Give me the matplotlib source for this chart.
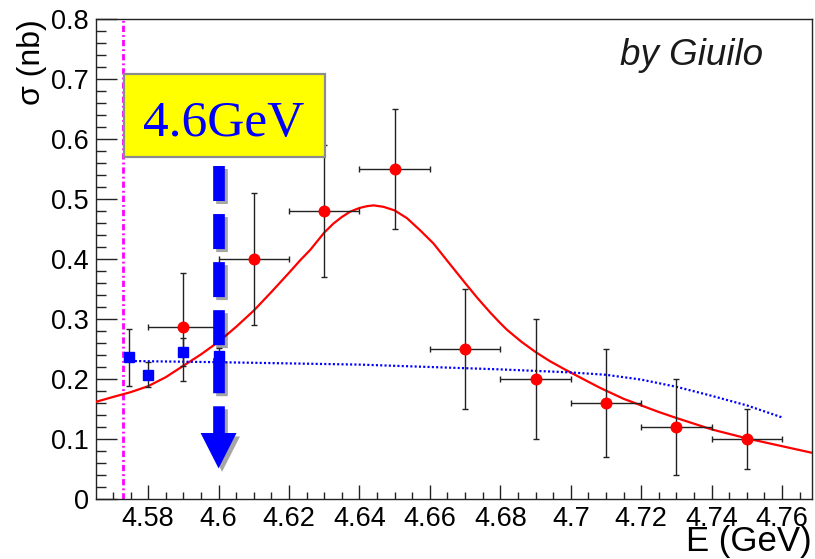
import matplotlib
matplotlib.use("Agg")
import matplotlib.pyplot as plt
import matplotlib.patheffects as pe
from matplotlib.patches import Rectangle, Polygon
from matplotlib.ticker import FixedLocator, MultipleLocator, FixedFormatter

# ---------------- data ----------------
red_x = [4.59, 4.61, 4.63, 4.65, 4.67, 4.69, 4.71, 4.73, 4.75]
red_y = [0.287, 0.400, 0.480, 0.550, 0.250, 0.200, 0.160, 0.120, 0.100]
red_yerr = [0.090, 0.110, 0.110, 0.100, 0.100, 0.100, 0.090, 0.080, 0.050]
red_xerr = [0.01, 0.01, 0.01, 0.01, 0.01, 0.01, 0.01, 0.01, 0.01]

blue_x = [4.5745, 4.58, 4.59, 4.60]
blue_y = [0.236, 0.207, 0.245, 0.238]
blue_yerr = [0.047, 0.021, 0.024, 0.013]

fit_x = [4.5652, 4.570, 4.575, 4.580, 4.585, 4.590, 4.595, 4.600, 4.605, 4.610,
         4.615, 4.620, 4.6232, 4.626, 4.630, 4.6326, 4.6350, 4.6374, 4.6400, 4.6421,
         4.6440, 4.6468, 4.650, 4.6535, 4.6572, 4.661, 4.6648, 4.670, 4.6735, 4.6771,
         4.680, 4.6819, 4.686, 4.690, 4.694, 4.698, 4.7035, 4.7084, 4.715, 4.720,
         4.725, 4.730, 4.740, 4.750, 4.760, 4.7685]
fit_y = [0.162, 0.170, 0.178, 0.188, 0.203, 0.222, 0.241, 0.262, 0.287, 0.314,
         0.345, 0.377, 0.398, 0.415, 0.444, 0.459, 0.470, 0.479, 0.485, 0.488,
         0.4894, 0.487, 0.481, 0.468, 0.448, 0.426, 0.398, 0.360, 0.335, 0.311,
         0.293, 0.282, 0.262, 0.245, 0.230, 0.217, 0.200, 0.185, 0.167, 0.156,
         0.145, 0.135, 0.116, 0.101, 0.088, 0.077]

bkg_x = [4.575, 4.600, 4.620, 4.640, 4.660, 4.680, 4.700, 4.710, 4.720, 4.730,
         4.740, 4.750, 4.760]
bkg_y = [0.230, 0.228, 0.226, 0.224, 0.220, 0.216, 0.211, 0.207, 0.199, 0.187,
         0.172, 0.156, 0.136]

threshold_x = 4.5729

xtick_vals = [4.58, 4.60, 4.62, 4.64, 4.66, 4.68, 4.70, 4.72, 4.74, 4.76]
xtick_labels = ["4.58", "4.6", "4.62", "4.64", "4.66", "4.68", "4.7", "4.72", "4.74", "4.76"]
ytick_vals = [0.0, 0.1, 0.2, 0.3, 0.4, 0.5, 0.6, 0.7, 0.8]
ytick_labels = ["0", "0.1", "0.2", "0.3", "0.4", "0.5", "0.6", "0.7", "0.8"]

arrow_x = 4.60
arrow_top = 0.555
arrow_head_base = 0.110
arrow_tip = 0.051
arrow_half_width = 0.0051

# ---------------- figure ----------------
plt.rcParams['font.family'] = ['Liberation Sans', 'DejaVu Sans']
plt.rcParams['lines.scale_dashes'] = False

fig = plt.figure(figsize=(8.15, 5.59), dpi=100)
ax = fig.add_axes([96/815, 1-499/559, (812-96)/815, (499-19)/559])

ax.set_xlim(4.5652, 4.7685)
ax.set_ylim(0, 0.8)

# threshold line
ax.axvline(threshold_x, color='#ff00ff', lw=2.0, linestyle=(0, (4.5, 2.2, 1.3, 2.2)), zorder=2)

# fit curve
ax.plot(fit_x, fit_y, color='#ff0000', lw=1.6, zorder=3, solid_joinstyle='round')
# background curve
ax.plot(bkg_x, bkg_y, color='#0000ff', lw=1.6, linestyle=(0, (1.5, 1.6)), zorder=3)

# data
ax.errorbar(red_x, red_y, yerr=red_yerr, xerr=red_xerr, fmt='o', color='#ff0000',
            markersize=7.6, ecolor='#222222', elinewidth=1.0, capsize=2.2, capthick=1.0, zorder=4)
ax.errorbar(blue_x, blue_y, yerr=blue_yerr, fmt='s', color='#0000ff',
            markersize=6.6, ecolor='#222222', elinewidth=1.0, capsize=2.2, capthick=1.0, zorder=4)

# annotation box
ax.add_patch(Rectangle((0.0391, 0.7125), 0.2807, 0.1729, transform=ax.transAxes,
                       facecolor='#ffff00', edgecolor='#8c8c8c', lw=1.6, zorder=6))
ax.text(0.1788, 0.756, "4.6GeV", transform=ax.transAxes, ha='center', va='baseline',
        color='#0000ff', fontsize=37, family=['Liberation Serif', 'DejaVu Serif'], zorder=7)

# arrow
shadow = [pe.SimpleLineShadow(offset=(2.5, -2.5), shadow_color='k', alpha=0.35), pe.Normal()]
ax.plot([arrow_x, arrow_x], [arrow_top, arrow_head_base], color='#0000ff', lw=8.4,
        linestyle=(0, (25.2, 9.4)), solid_capstyle='butt', dash_capstyle='butt',
        zorder=8, path_effects=shadow)
head = Polygon([[arrow_x - arrow_half_width, arrow_head_base],
                [arrow_x + arrow_half_width, arrow_head_base],
                [arrow_x, arrow_tip]], closed=True, facecolor='#0000ff', edgecolor='none',
               zorder=8,
               path_effects=[pe.SimplePatchShadow(offset=(2.5, -2.5), shadow_rgbFace='k', alpha=0.35),
                             pe.Normal()])
ax.add_patch(head)

# text
ax.text(0.9316, 0.904, "by Giuilo", transform=ax.transAxes, ha='right', va='baseline',
        fontsize=26.5, style='italic', color='#1a1a1a')

# ticks
ax.xaxis.set_major_locator(FixedLocator(xtick_vals))
ax.xaxis.set_major_formatter(FixedFormatter(xtick_labels))
ax.xaxis.set_minor_locator(MultipleLocator(0.005))
ax.yaxis.set_major_locator(FixedLocator(ytick_vals))
ax.yaxis.set_major_formatter(FixedFormatter(ytick_labels))
ax.yaxis.set_minor_locator(MultipleLocator(0.02))

ax.tick_params(axis='both', which='both', direction='in', top=False, right=False,
               labelsize=19.5, width=1.0, color='#222222')
ax.tick_params(axis='x', which='major', length=10.3, pad=5)
ax.tick_params(axis='x', which='minor', length=5.3)
ax.tick_params(axis='y', which='major', length=15, pad=5)
ax.tick_params(axis='y', which='minor', length=7.3)

for s in ax.spines.values():
    s.set_linewidth(1.0)
    s.set_color('#222222')

ax.set_xlabel("E (GeV)", fontsize=25, loc='right')
ax.xaxis.set_label_coords(1.0, -0.055)
ax.set_ylabel("σ (nb)", fontsize=23, loc='top')
ax.yaxis.set_label_coords(-0.068, 1.0)

fig.savefig("out.png", dpi=100)
